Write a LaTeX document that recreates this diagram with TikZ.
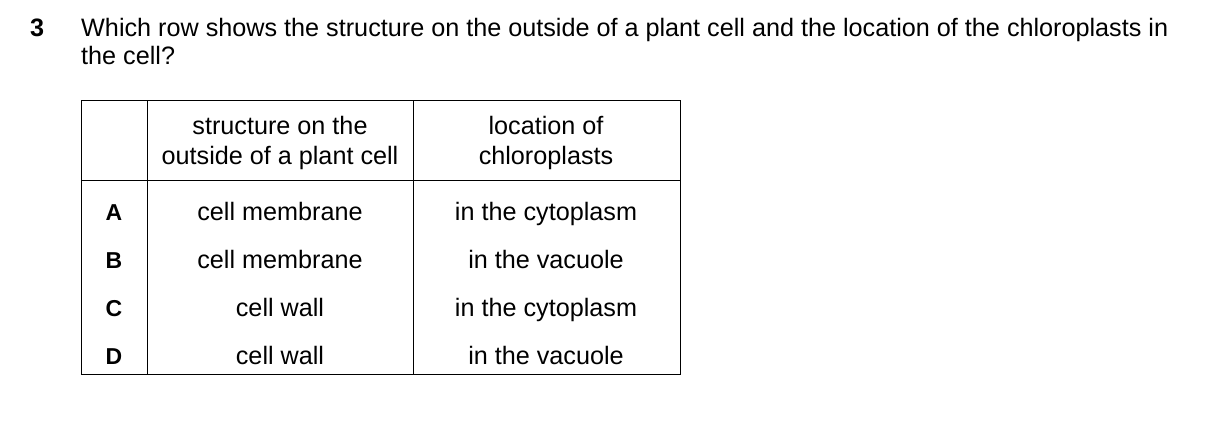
\documentclass[tikz,border=0pt]{standalone}
\usepackage{fontspec}
\setmainfont{Liberation Sans}
\begin{document}
\begin{tikzpicture}[x=1pt,y=-1pt,
  q/.style={anchor=base west,inner sep=0,font=\fontsize{25.2}{30}\selectfont},
  t/.style={anchor=base,inner sep=0,font=\fontsize{25.2}{30}\selectfont},
  lb/.style={t,font=\fontsize{23}{30}\selectfont\bfseries},
  ln/.style={line width=1pt}]
\useasboundingbox (0,0) rectangle (1209,425);
\node[q,font=\fontsize{25.2}{30}\selectfont\bfseries] (n3) at (30,37) {3};
\node[q] (q1) at (81,37) {Which row shows the structure on the outside of a plant cell and the location of the chloroplasts in};
\node[q] (q2) at (81,65) {the cell?};
\draw[ln] (81,101) rectangle (680,374);
\draw[ln] (147,101) -- (147,374);
\draw[ln] (413,101) -- (413,374);
\draw[ln] (81,180) -- (680,180);
\node[t] (h1a) at (280,135) {structure on the};
\node[t] (h1b) at (280,164) {outside of a plant cell};
\node[t] (h2a) at (546,135) {location of};
\node[t] (h2b) at (546,164) {chloroplasts};
\node[lb] (la) at (114,220) {A};
\node[lb] (lbb) at (114,268) {B};
\node[lb] (lc) at (114,316) {C};
\node[lb] (ld) at (114,364) {D};
\node[t] (a1) at (280,220) {cell membrane};
\node[t] (b1) at (280,268) {cell membrane};
\node[t] (c1) at (280,316) {cell wall};
\node[t] (d1) at (280,364) {cell wall};
\node[t] (a2) at (546,220) {in the cytoplasm};
\node[t] (b2) at (546,268) {in the vacuole};
\node[t] (c2) at (546,316) {in the cytoplasm};
\node[t] (d2) at (546,364) {in the vacuole};
\end{tikzpicture}
\end{document}
